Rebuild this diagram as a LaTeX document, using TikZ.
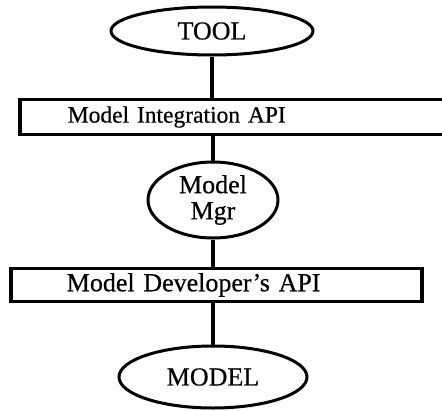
\documentclass[tikz,border=0pt]{standalone}
\usepackage{fontspec}
\setmainfont{Liberation Serif}[FakeBold=0.5, BoldFont=*]
\usetikzlibrary{shapes.geometric}

\begin{document}
\begin{tikzpicture}[x=1pt, y=-1pt,
    blob/.style={draw, ellipse, line width=3pt, inner sep=0pt, align=center, font=\fontsize{26}{26}\selectfont\bfseries},
    layer/.style={draw, rectangle, line width=3.6pt, anchor=west, align=left, font=\fontsize{26}{26}\selectfont\bfseries},
    link/.style={line width=3.4pt},
  ]
  \useasboundingbox (0,0) rectangle (442,410);
  \clip (0,0) rectangle (442,410);

  \node[blob, minimum width=202pt, minimum height=48pt] (tool) at (212,31) {TOOL};
  \node[layer, minimum height=35pt, inner xsep=48pt, text width=340pt, font=\fontsize{23.5}{23.5}\selectfont\bfseries] (intapi) at (18,117) {Model Integration API};
  \node[blob, minimum width=130pt, minimum height=76pt] (mgr) at (213,200) {Model\\Mgr};
  \node[layer, minimum height=33pt, inner xsep=56pt, text width=299pt] (devapi) at (9,285) {Model Developer's API};
  \node[blob, minimum width=188pt, minimum height=62pt] (model) at (213,377) {MODEL};

  \draw[link] (tool.south) -- (tool.south |- intapi.north);
  \draw[link] (mgr.north) -- (mgr.north |- intapi.south);
  \draw[link] (mgr.south) -- (mgr.south |- devapi.north);
  \draw[link] (model.north) -- (model.north |- devapi.south);
\end{tikzpicture}
\end{document}
